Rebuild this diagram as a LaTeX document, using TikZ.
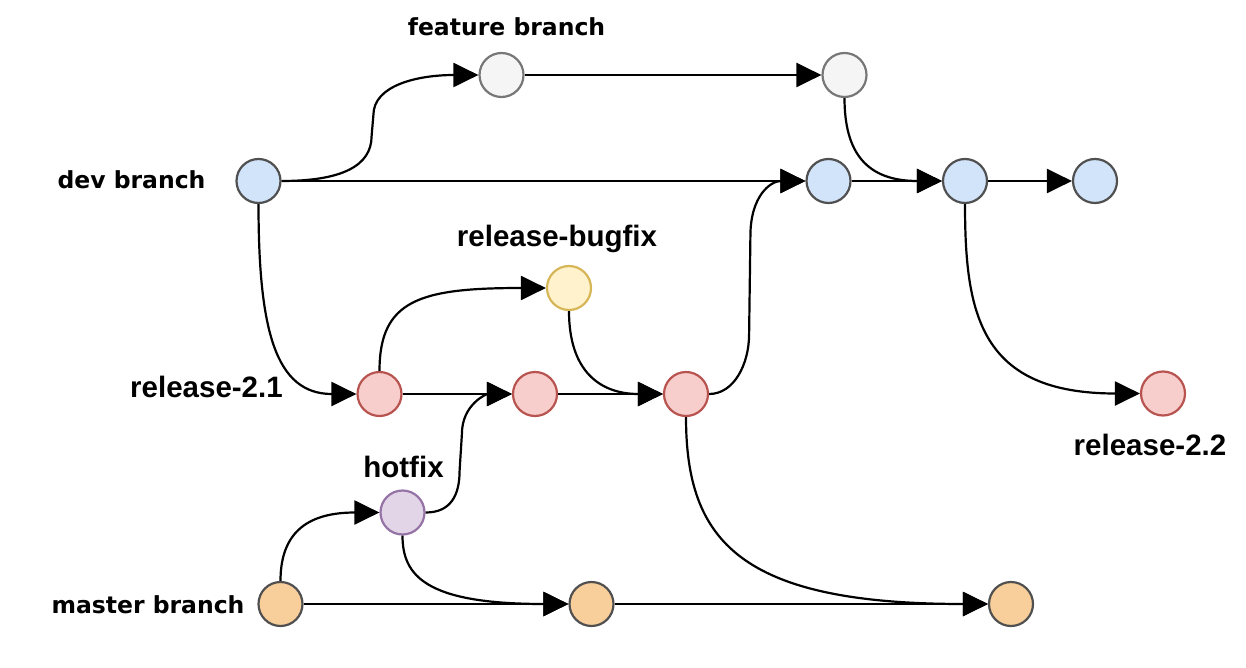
\documentclass[tikz,border=0pt]{standalone}
\usepackage{fontspec}
\usetikzlibrary{arrows.meta,calc}
\newfontfamily\dvfont{DejaVu Sans}
\newfontfamily\lbfont{Liberation Sans}
\definecolor{bluefill}{HTML}{D2E4FA}
\definecolor{graystroke}{HTML}{505050}
\definecolor{featfill}{HTML}{F5F5F5}
\definecolor{featstroke}{HTML}{777777}
\definecolor{redfill}{HTML}{F8CECC}
\definecolor{redstroke}{HTML}{B85450}
\definecolor{yelfill}{HTML}{FFF2CC}
\definecolor{yelstroke}{HTML}{D6B656}
\definecolor{purfill}{HTML}{E1D5E7}
\definecolor{purstroke}{HTML}{9673A6}
\definecolor{orafill}{HTML}{F8CE9A}
\tikzset{
  commit/.style={circle, minimum size=44pt, inner sep=0pt, line width=2.2pt},
  devc/.style={commit, fill=bluefill, draw=graystroke},
  featc/.style={commit, fill=featfill, draw=featstroke},
  relc/.style={commit, fill=redfill, draw=redstroke},
  bugc/.style={commit, fill=yelfill, draw=yelstroke},
  hotc/.style={commit, fill=purfill, draw=purstroke},
  masc/.style={commit, fill=orafill, draw=graystroke},
  edge/.style={line width=2.2pt, black, -{Triangle[length=25pt,width=24pt]}},
  lblA/.style={inner sep=0pt, anchor=base, font=\dvfont\bfseries\fontsize{23.5}{28}\selectfont},
  lblB/.style={inner sep=0pt, anchor=base, font=\lbfont\bfseries\fontsize{29.5}{34}\selectfont},
}
\begin{document}
\begin{tikzpicture}[x=1pt,y=-1pt]
\useasboundingbox (0,0) rectangle (1246,668);
% commits
\node[featc] (f1) at (501.5,75) {};
\node[featc] (f2) at (844.5,75) {};
\node[devc] (d1) at (258.5,181) {};
\node[devc] (d2) at (828.5,181) {};
\node[devc] (d3) at (965,181) {};
\node[devc] (d4) at (1095,181) {};
\node[bugc] (b1) at (569,288) {};
\node[relc] (r1) at (379.5,394) {};
\node[relc] (r2) at (535,394) {};
\node[relc] (r3) at (686,394) {};
\node[relc] (r4) at (1163,393.5) {};
\node[hotc] (h1) at (402.5,512.5) {};
\node[masc] (m1) at (280.5,604) {};
\node[masc] (m2) at (591.5,604) {};
\node[masc] (m3) at (1011,604) {};
% labels
\node[lblA] (lf) at (506.5,36) {feature branch};
\node[lblA] (ld) at (131.5,189) {dev branch};
\node[lblA] (lm) at (148,613) {master branch};
\node[lblB] (lr1) at (206.5,397) {release-2.1};
\node[lblB] (lb) at (557,247) {release-bugfix};
\node[lblB] (lh) at (403.5,477) {hotfix};
\node[lblB] (lr2) at (1150,455) {release-2.2};
% straight edges
\draw[edge] (f1) -- (f2);
\draw[edge] (d1) -- (d2);
\draw[edge] (d2) -- (d3);
\draw[edge] (d3) -- (d4);
\draw[edge] (r1) -- (r2);
\draw[edge] (r2) -- (r3);
\draw[edge] (m1) -- (m2);
\draw[edge] (m2) -- (m3);
% curved edges
\draw[edge] (d1.east) .. controls +(60,0) and +(0,30) .. ($(d1.east)+(90,-45)$)
  -- ($(f1.west)+(-105,40)$) .. controls +(0,-30) and +(-60,0) .. (f1.west);
\draw[edge] (f2.south) .. controls +(0,55) and +(-75,0) .. (d3.west);
\draw[edge] (d1.south) .. controls +(0,126) and +(-81,0) .. (r1.west);
\draw[edge] (r1.north) .. controls +(0,-71) and +(-126,0) .. (b1.west);
\draw[edge] (b1.south) .. controls +(0,60) and +(-63,0) .. (r3.west);
\draw[edge] (r3.east) .. controls +(25,0) and +(0,30) .. ($(r3.east)+(40,-60)$)
  -- ($(d2.west)+(-55,55)$) .. controls +(0,-40) and +(-35,0) .. (d2.west);
\draw[edge] (m1.north) .. controls +(0,-50) and +(-70,0) .. (h1.west);
\draw[edge] (h1.east) .. controls +(25,0) and +(0,25) .. ($(h1.east)+(34,-42)$)
  -- ($(r2.west)+(-50,40)$) .. controls +(0,-30) and +(-25,0) .. (r2.west);
\draw[edge] (h1.south) .. controls +(0,40) and +(-143,0) .. (m2.west);
\draw[edge] (r3.south) .. controls +(0,124) and +(-248,0) .. (m3.west);
\draw[edge] (d3.south) .. controls +(0,110) and +(-160,0) .. (r4.west);
\end{tikzpicture}
\end{document}
